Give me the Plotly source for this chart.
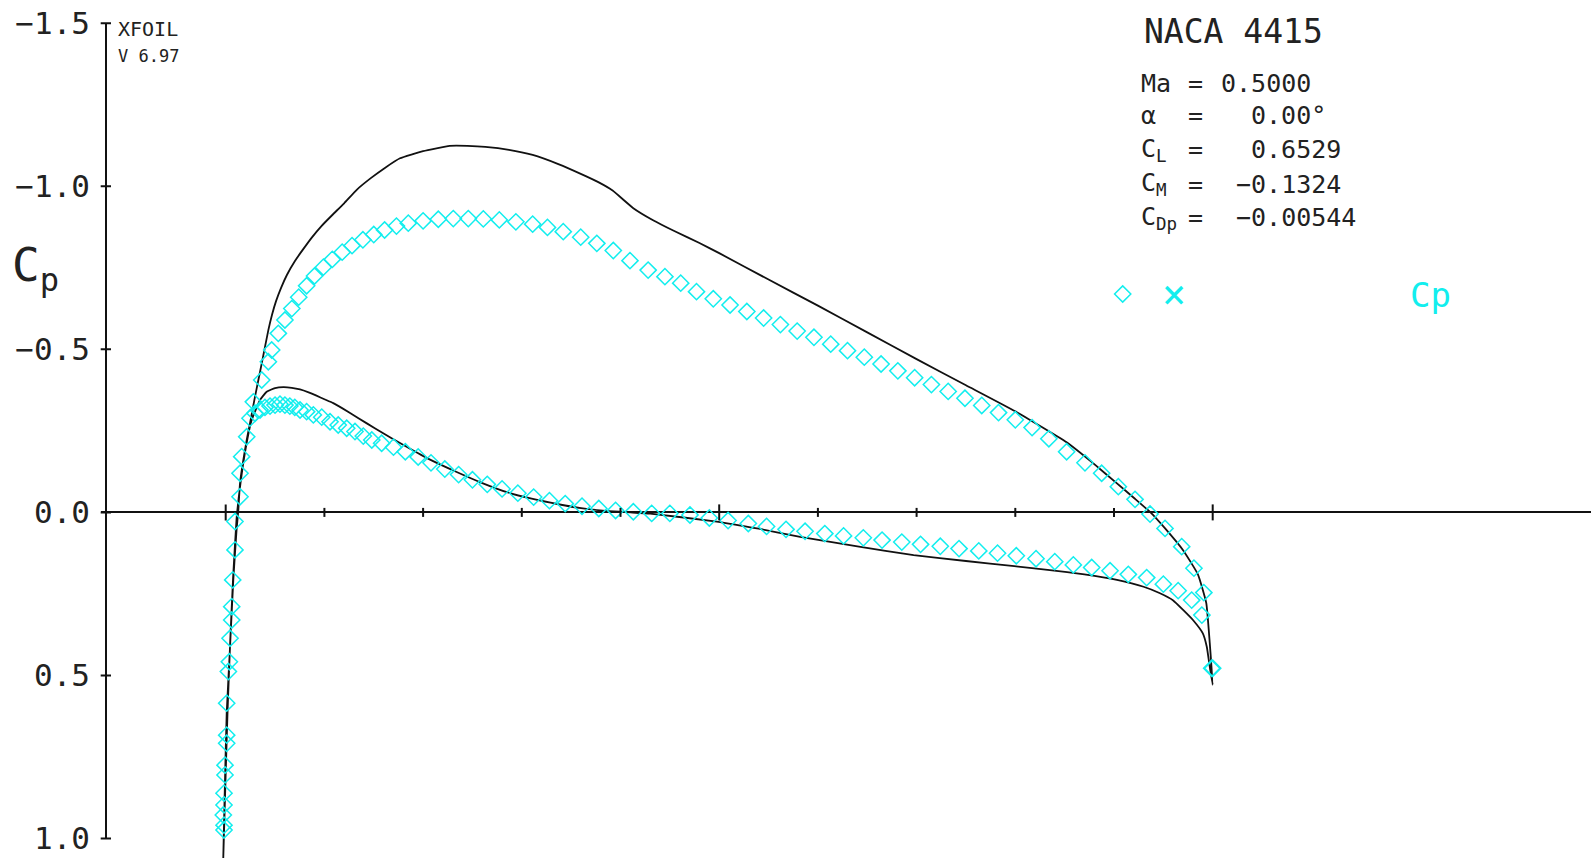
import plotly.graph_objects as go

# ---------------- data ----------------
# Inviscid Cp (black line): upper surface TE -> LE
inv_upper_x = [1.0, 0.997, 0.9935, 0.985, 0.970, 0.952, 0.937, 0.920, 0.903, 0.880,
               0.852, 0.800, 0.750, 0.700, 0.650, 0.600, 0.550, 0.500, 0.480, 0.455,
               0.433, 0.413, 0.392, 0.378, 0.362, 0.337, 0.311, 0.287, 0.263, 0.245,
               0.227, 0.200, 0.1766, 0.162, 0.147, 0.133, 0.120, 0.108, 0.097, 0.087,
               0.078, 0.070, 0.062, 0.056, 0.051, 0.047, 0.0432, 0.0365, 0.0297, 0.0246,
               0.0213, 0.0145, 0.0128, 0.011, 0.0077, 0.0044, 0.001, -0.0007, -0.0025]
inv_upper_cp = [0.529, 0.40, 0.278, 0.19, 0.116, 0.05, 0.0, -0.045, -0.089, -0.148,
                -0.215, -0.31, -0.39, -0.47, -0.552, -0.634, -0.714, -0.795, -0.826, -0.862,
                -0.896, -0.933, -0.987, -1.012, -1.035, -1.068, -1.096, -1.112, -1.121, -1.124,
                -1.124, -1.108, -1.086, -1.058, -1.025, -0.99, -0.948, -0.912, -0.878, -0.842,
                -0.805, -0.770, -0.728, -0.688, -0.648, -0.607, -0.559, -0.457, -0.355, -0.273,
                -0.222, -0.089, -0.007, 0.054, 0.207, 0.412, 0.616, 0.82, 1.065]
# Inviscid Cp: lower surface LE -> TE
inv_lower_x = [0.0, 0.002, 0.0045, 0.0075, 0.011, 0.015, 0.0205, 0.026, 0.0348, 0.0415,
               0.050, 0.0584, 0.067, 0.0753, 0.084, 0.092, 0.100, 0.109, 0.126, 0.143,
               0.160, 0.177, 0.205, 0.234, 0.26, 0.285, 0.31, 0.337, 0.36, 0.388,
               0.41, 0.43, 0.4975, 0.54, 0.582, 0.64, 0.697, 0.75, 0.799, 0.835,
               0.87, 0.903, 0.93, 0.9466, 0.96, 0.970, 0.980, 0.990, 0.994, 0.997,
               1.0]
inv_lower_cp = [0.8, 0.6, 0.4, 0.2, 0.02, -0.09, -0.2, -0.28, -0.345, -0.370,
                -0.381, -0.384, -0.382, -0.377, -0.368, -0.358, -0.347, -0.335, -0.305, -0.273,
                -0.242, -0.212, -0.165, -0.124, -0.09, -0.062, -0.042, -0.025, -0.013, -0.004,
                0.0, 0.004, 0.028, 0.05, 0.075, 0.104, 0.131, 0.149, 0.165, 0.177,
                0.19, 0.207, 0.228, 0.248, 0.27, 0.299, 0.330, 0.371, 0.412, 0.473,
                0.529]

# Viscous Cp (cyan diamonds): upper surface LE -> TE
visc_upper_x = [-0.0017, -0.0017, -0.0024, -0.0017, -0.0017, -0.0007, -0.0007, 0.001, 0.001, 0.001,
                0.0027, 0.0037, 0.0044, 0.0061, 0.0061, 0.0071, 0.0094, 0.0094, 0.0145, 0.0145,
                0.0162, 0.0213, 0.0246, 0.028, 0.0365, 0.0432, 0.0466, 0.0533, 0.060, 0.067,
                0.074, 0.082, 0.090, 0.099, 0.108, 0.118, 0.128, 0.139, 0.150, 0.161,
                0.173, 0.185, 0.200, 0.2154, 0.2306, 0.2458, 0.261, 0.2772, 0.294, 0.311,
                0.326, 0.342, 0.3597, 0.376, 0.3927, 0.4096, 0.428, 0.445, 0.461, 0.477,
                0.494, 0.511, 0.528, 0.545, 0.562, 0.579, 0.596, 0.613, 0.630, 0.647,
                0.664, 0.681, 0.698, 0.715, 0.732, 0.749, 0.766, 0.783, 0.800, 0.817,
                0.834, 0.852, 0.8706, 0.8875, 0.9044, 0.9213, 0.9365, 0.9517, 0.9686, 0.981,
                0.991, 0.999]
visc_upper_cp = [0.974, 0.959, 0.928, 0.897, 0.861, 0.805, 0.775, 0.708, 0.683, 0.585,
                 0.488, 0.458, 0.386, 0.330, 0.289, 0.207, 0.115, 0.028, -0.048, -0.120,
                 -0.171, -0.232, -0.289, -0.339, -0.406, -0.462, -0.498, -0.549, -0.59, -0.625,
                 -0.66, -0.695, -0.725, -0.752, -0.776, -0.798, -0.818, -0.836, -0.852, -0.866,
                 -0.878, -0.887, -0.894, -0.899, -0.901, -0.901, -0.900, -0.897, -0.891, -0.884,
                 -0.874, -0.861, -0.844, -0.825, -0.803, -0.772, -0.743, -0.723, -0.703, -0.677,
                 -0.655, -0.636, -0.616, -0.596, -0.576, -0.556, -0.537, -0.516, -0.496, -0.476,
                 -0.455, -0.434, -0.413, -0.392, -0.371, -0.350, -0.328, -0.306, -0.284, -0.260,
                 -0.226, -0.186, -0.152, -0.120, -0.079, -0.040, 0.005, 0.049, 0.105, 0.171,
                 0.246, 0.478]
# Viscous Cp: lower surface LE -> TE
visc_lower_x = [0.0297, 0.0348, 0.0398, 0.0449, 0.050, 0.055, 0.060, 0.065, 0.070, 0.0753,
                0.082, 0.0888, 0.0973, 0.1057, 0.114, 0.1226, 0.131, 0.1394, 0.148, 0.158,
                0.170, 0.182, 0.195, 0.208, 0.222, 0.236, 0.250, 0.265, 0.280, 0.296,
                0.312, 0.328, 0.344, 0.361, 0.378, 0.395, 0.413, 0.4316, 0.450, 0.4704,
                0.490, 0.509, 0.5295, 0.548, 0.5677, 0.587, 0.607, 0.626, 0.646, 0.665,
                0.685, 0.704, 0.724, 0.743, 0.763, 0.782, 0.801, 0.821, 0.840, 0.8588,
                0.8774, 0.896, 0.9145, 0.9331, 0.950, 0.965, 0.9787, 0.989]
visc_lower_cp = [-0.304, -0.314, -0.322, -0.326, -0.329, -0.332, -0.329, -0.326, -0.322, -0.314,
                 -0.309, -0.299, -0.292, -0.278, -0.268, -0.258, -0.248, -0.234, -0.222, -0.212,
                 -0.200, -0.186, -0.170, -0.152, -0.133, -0.116, -0.100, -0.086, -0.072, -0.059,
                 -0.047, -0.036, -0.027, -0.019, -0.012, -0.006, -0.002, 0.003, 0.003, 0.008,
                 0.017, 0.025, 0.034, 0.043, 0.052, 0.058, 0.065, 0.072, 0.078, 0.085,
                 0.091, 0.098, 0.104, 0.111, 0.118, 0.125, 0.133, 0.142, 0.151, 0.161,
                 0.169, 0.179, 0.190, 0.200, 0.220, 0.240, 0.269, 0.315]
te_x = [1.0]
te_cp = [0.478]

x_ticks = [0.0, 0.1, 0.2, 0.3, 0.4, 0.5, 0.6, 0.7, 0.8, 0.9, 1.0]
x_major_ticks = [0.0, 0.5, 1.0]
y_ticks = [-1.5, -1.0, -0.5, 0.0, 0.5, 1.0]
y_tick_labels = ["\u22121.5", "\u22121.0", "\u22120.5", "0.0", "0.5", "1.0"]

info_names = ["Ma", "\u03b1", "C<sub>L</sub>", "C<sub>M</sub>", "C<sub>Dp</sub>"]
info_values = ["0.5000", "0.00\u00b0", "0.6529", "\u22120.1324", "\u22120.00544"]

# ---------------- geometry / styles ----------------
W, H = 1591, 858
X0_PX, X_UNIT = 225.7, 987.0
Y0_PX, Y_UNIT = 512.4, 326.1
X_AXIS_START_PX = 100.7
Y_AXIS_PX = 106.0

def xdata(px):
    return (px - X0_PX) / X_UNIT

def px2paper_x(px):
    return px / W

def px2paper_y(py):
    return 1 - py / H

x_range = [xdata(X_AXIS_START_PX), xdata(W)]
y_range = [(H - Y0_PX) / Y_UNIT, (0 - Y0_PX) / Y_UNIT]
YAX_X = xdata(Y_AXIS_PX)

CYAN = "#12eeee"
BLACK = "#111111"
TEXT = "#222222"
FONT = "DejaVu Sans Mono"

fig = go.Figure()

fig.add_trace(go.Scatter(
    x=inv_upper_x + inv_lower_x, y=inv_upper_cp + inv_lower_cp,
    mode="lines", line=dict(color=BLACK, width=1.8, shape="spline", smoothing=0.4),
    showlegend=False, hoverinfo="skip"))

fig.add_trace(go.Scatter(
    x=visc_upper_x + te_x + visc_lower_x[::-1], y=visc_upper_cp + te_cp + visc_lower_cp[::-1],
    mode="markers", name=" ",
    marker=dict(symbol="diamond-open", size=12.5, color=CYAN, line=dict(color=CYAN, width=1.5)),
    showlegend=True))

shapes = []
# y axis line
shapes.append(dict(type="line", xref="x", yref="y", x0=YAX_X, x1=YAX_X, y0=y_ticks[0], y1=y_ticks[-1],
                   line=dict(color=BLACK, width=2)))
for yv in y_ticks:
    shapes.append(dict(type="line", xref="x", yref="y", xsizemode="pixel", xanchor=YAX_X,
                       x0=-6, x1=5, y0=yv, y1=yv, line=dict(color=BLACK, width=2)))
for xv in x_ticks:
    L = 8 if xv in x_major_ticks else 4.5
    shapes.append(dict(type="line", xref="x", yref="y", ysizemode="pixel", yanchor=0,
                       x0=xv, x1=xv, y0=-L, y1=L, line=dict(color=BLACK, width=2)))

annotations = []
def ann(text, px, py, size, color=TEXT, xanchor="left", yanchor="middle"):
    annotations.append(dict(text=text, x=px2paper_x(px), y=px2paper_y(py), xref="paper", yref="paper",
                            xanchor=xanchor, yanchor=yanchor, showarrow=False,
                            font=dict(family=FONT, size=size, color=color)))

ann("XFOIL", 116, 29, 20)
ann("V 6.97", 116, 55.5, 17)
ann("NACA 4415", 1142, 31, 33)
row_y = [83.5, 116, 150, 184, 218]
value_px = [1219, 1249, 1249, 1234, 1234]
for name, val, ry, vx in zip(info_names, info_values, row_y, value_px):
    ann(name, 1139, ry, 25)
    ann("=", 1186, ry, 25)
    ann(val, vx, ry, 25)
ann("C<sub>p</sub>", 10, 268, 46)
ann("\u00d7", 1174, 294, 40, color=CYAN, xanchor="center")
ann("Cp", 1408, 295, 34, color=CYAN)

fig.update_layout(
    width=W, height=H, margin=dict(l=0, r=0, t=0, b=0),
    paper_bgcolor="white", plot_bgcolor="white",
    xaxis=dict(domain=[px2paper_x(X_AXIS_START_PX), 1], range=x_range, showgrid=False,
               zeroline=False, showticklabels=False, ticks="", showline=False, fixedrange=True),
    yaxis=dict(range=y_range, showgrid=False, zeroline=True, zerolinecolor=BLACK, zerolinewidth=2,
               tickvals=y_ticks, ticktext=y_tick_labels, ticks="", showline=False,
               anchor="free", position=px2paper_x(Y_AXIS_PX), ticklabelstandoff=16,
               tickfont=dict(family=FONT, size=31, color=TEXT), fixedrange=True),
    shapes=shapes, annotations=annotations,
    showlegend=True,
    legend=dict(x=px2paper_x(1122.7 - 20), y=px2paper_y(294.3), xanchor="left", yanchor="middle",
                bgcolor="rgba(0,0,0,0)", borderwidth=0, font=dict(family=FONT, size=18, color=CYAN)),
)

fig.write_html("out.html")
